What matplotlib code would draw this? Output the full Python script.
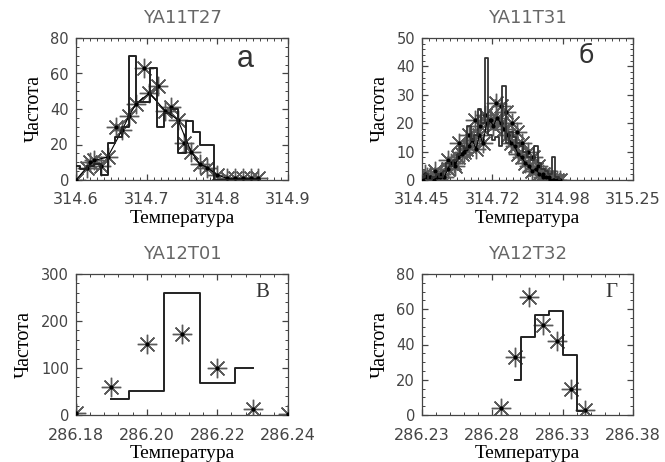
import matplotlib
matplotlib.use("Agg")
import matplotlib.pyplot as plt
from matplotlib.ticker import AutoMinorLocator

# --- panel a: YA11T27 ---
a_hist_x = [314.60, 314.61, 314.62, 314.63, 314.64, 314.65, 314.66, 314.67, 314.68, 314.69,
            314.70, 314.71, 314.72, 314.73, 314.74, 314.75, 314.76, 314.77, 314.78, 314.79,
            314.80, 314.81, 314.82, 314.83, 314.84, 314.85, 314.86]
a_hist_y = [8, 6, 8, 9, 3, 21, 24, 30, 70, 44,
            44, 63, 30, 38, 40, 15, 33, 27, 20, 20,
            0, 0, 0, 0, 0, 0, 0]
a_line_x = [314.600, 314.615, 314.626, 314.645, 314.665, 314.675, 314.685, 314.704, 314.726,
            314.744, 314.763, 314.775, 314.786, 314.799, 314.813, 314.825, 314.837, 314.848, 314.858]
a_line_y = [0, 7, 11, 13, 28, 36, 43, 49, 39, 34, 16, 9, 7, 3, 1, 1, 1, 1, 1]
a_star_x = [314.620, 314.635, 314.657, 314.696, 314.716, 314.735, 314.753]
a_star_y = [10, 8, 30, 63, 53, 41, 21]

# --- panel b: YA11T31 ---
b_hist_x = [314.455, 314.468, 314.481, 314.495, 314.508, 314.521, 314.535, 314.548, 314.561, 314.575,
            314.588, 314.601, 314.615, 314.628, 314.641, 314.655, 314.668, 314.681, 314.695, 314.708,
            314.721, 314.735, 314.748, 314.761, 314.775, 314.788, 314.801, 314.815, 314.828, 314.841,
            314.855, 314.868, 314.881, 314.895, 314.908, 314.921, 314.935, 314.948, 314.961, 314.975]
b_hist_y = [1, 2, 0, 1, 2, 1, 3, 6, 5, 7,
            9, 12, 11, 19, 14, 16, 25, 20, 43, 16,
            14, 15, 12, 33, 13, 17, 15, 13, 12, 10,
            8, 7, 12, 6, 4, 3, 2, 8, 1, 0]
b_line_y = [0, 1, 1, 0, 1, 2, 1, 4, 6, 5,
            8, 9, 11, 12, 14, 11, 16, 13, 20, 21,
            19, 22, 20, 18, 16, 13, 12, 9, 8, 6,
            5, 3, 4, 2, 1, 1, 0, 0, 0, 0]
b_star_x = [314.46, 314.48, 314.50, 314.52, 314.55, 314.57, 314.59, 314.61, 314.63, 314.65,
            314.67, 314.69, 314.71, 314.73, 314.75, 314.77, 314.79, 314.81, 314.83, 314.85,
            314.87, 314.89, 314.91, 314.93, 314.95]
b_star_y = [2, 1, 3, 1, 7, 6, 13, 10, 16, 21,
            19, 23, 21, 27, 26, 24, 20, 17, 13, 10,
            8, 5, 2, 1, 0]
b_ticks = [314.45, 314.7167, 314.9833, 315.25]
b_ticklabels = ["314.45", "314.72", "314.98", "315.25"]

# --- panel c: YA12T01 ---
c_hist_x = [286.19, 286.20, 286.21, 286.22, 286.23]
c_hist_y = [33, 51, 260, 69, 99]
c_star_x = [286.18, 286.19, 286.20, 286.21, 286.22, 286.23, 286.24]
c_star_y = [5, 59, 151, 173, 99, 12, 3]

# --- panel d: YA12T32 ---
d_hist_x = [286.296, 286.305, 286.315, 286.325, 286.335, 286.345]
d_hist_y = [20, 44, 57, 59, 34, 2]
d_star_x = [286.286, 286.296, 286.306, 286.316, 286.326, 286.336, 286.346]
d_star_y = [4, 33, 67, 51, 42, 15, 3]

STAR = (8, 2, 0)
STAR_COLOR = "#5a5a5a"
TICK_COLOR = "#444444"


def draw_stars(ax, x, y, line=False):
    ax.plot(x, y, linestyle="none", marker=STAR, markersize=14,
            markeredgewidth=1.0, color=STAR_COLOR, zorder=2)
    ax.plot(x, y, linestyle="-" if line else "none", lw=0.8, color="black",
            marker="o", markersize=2, zorder=3)


def style_axes(ax, title, letter, letter_pos, letter_font, xlim, ylim, xticks, yticks,
               xticklabels=None, xminor=5, yminor=4):
    ax.set_xlim(*xlim)
    ax.set_ylim(*ylim)
    ax.set_xticks(xticks)
    if xticklabels is not None:
        ax.set_xticklabels(xticklabels)
    ax.set_yticks(yticks)
    ax.xaxis.set_minor_locator(AutoMinorLocator(xminor))
    ax.yaxis.set_minor_locator(AutoMinorLocator(yminor))
    ax.tick_params(which="both", direction="in", top=True, right=True,
                   color=TICK_COLOR, labelcolor=TICK_COLOR)
    ax.tick_params(axis="x", which="major", pad=9, labelsize=11.5)
    ax.tick_params(axis="y", which="major", pad=5, labelsize=10.5)
    ax.tick_params(which="major", length=4.5, width=0.9)
    ax.tick_params(which="minor", length=2, width=0.7)
    for s in ax.spines.values():
        s.set_color(TICK_COLOR)
        s.set_linewidth(0.9)
    ax.set_title(title, fontsize=13, color="#666666", pad=11)
    ax.set_xlabel("Температура", family="Liberation Serif", fontsize=14, labelpad=2)
    ax.set_ylabel("Частота", family="Liberation Serif", fontsize=14.5, labelpad=5)
    ax.text(letter_pos[0], letter_pos[1], letter, transform=ax.transAxes,
            ha="center", va="center", **letter_font)


fig = plt.figure(figsize=(6.65, 4.62), dpi=100)
W, H = 665, 462
ax_a = fig.add_axes([76 / W, 1 - 180 / H, 212 / W, 142 / H])
ax_b = fig.add_axes([422 / W, 1 - 180 / H, 211 / W, 142 / H])
ax_c = fig.add_axes([76 / W, 1 - 415 / H, 212 / W, 141 / H])
ax_d = fig.add_axes([422 / W, 1 - 415 / H, 211 / W, 141 / H])

# a
draw_stars(ax_a, a_line_x, a_line_y, line=True)
draw_stars(ax_a, a_star_x, a_star_y)
ax_a.step(a_hist_x, a_hist_y, where="mid", color="#222222", lw=1.4, zorder=4)
style_axes(ax_a, "YA11T27", "a", (0.80, 0.85),
           dict(family="Liberation Sans", fontsize=22, color="#333333"),
           (314.6, 314.9), (0, 80), [314.6, 314.7, 314.8, 314.9], [0, 20, 40, 60, 80],
           xminor=10, yminor=4)

# b
draw_stars(ax_b, b_hist_x, b_line_y, line=True)
draw_stars(ax_b, b_star_x, b_star_y)
ax_b.step(b_hist_x, b_hist_y, where="mid", color="#333333", lw=1.3, zorder=4)
style_axes(ax_b, "YA11T31", "б", (0.78, 0.87),
           dict(family="DejaVu Sans", fontsize=18, color="#333333"),
           (314.45, 315.25), (0, 50), b_ticks, [0, 10, 20, 30, 40, 50],
           xticklabels=b_ticklabels, xminor=10, yminor=5)

# c
draw_stars(ax_c, c_star_x, c_star_y)
ax_c.step(c_hist_x, c_hist_y, where="mid", color="#222222", lw=1.4, zorder=4)
style_axes(ax_c, "YA12T01", "В", (0.88, 0.87),
           dict(family="Liberation Serif", fontsize=15, color="#333333"),
           (286.18, 286.24), (0, 300), [286.18, 286.20, 286.22, 286.24], [0, 100, 200, 300],
           xticklabels=["286.18", "286.20", "286.22", "286.24"], xminor=5, yminor=5)

# d
draw_stars(ax_d, d_star_x, d_star_y)
ax_d.step(d_hist_x, d_hist_y, where="mid", color="#222222", lw=1.4, zorder=4)
style_axes(ax_d, "YA12T32", "Г", (0.90, 0.87),
           dict(family="Liberation Serif", fontsize=15, color="#333333"),
           (286.23, 286.38), (0, 80), [286.23, 286.28, 286.33, 286.38], [0, 20, 40, 60, 80],
           xticklabels=["286.23", "286.28", "286.33", "286.38"], xminor=5, yminor=4)

fig.savefig("out.png", dpi=100)
